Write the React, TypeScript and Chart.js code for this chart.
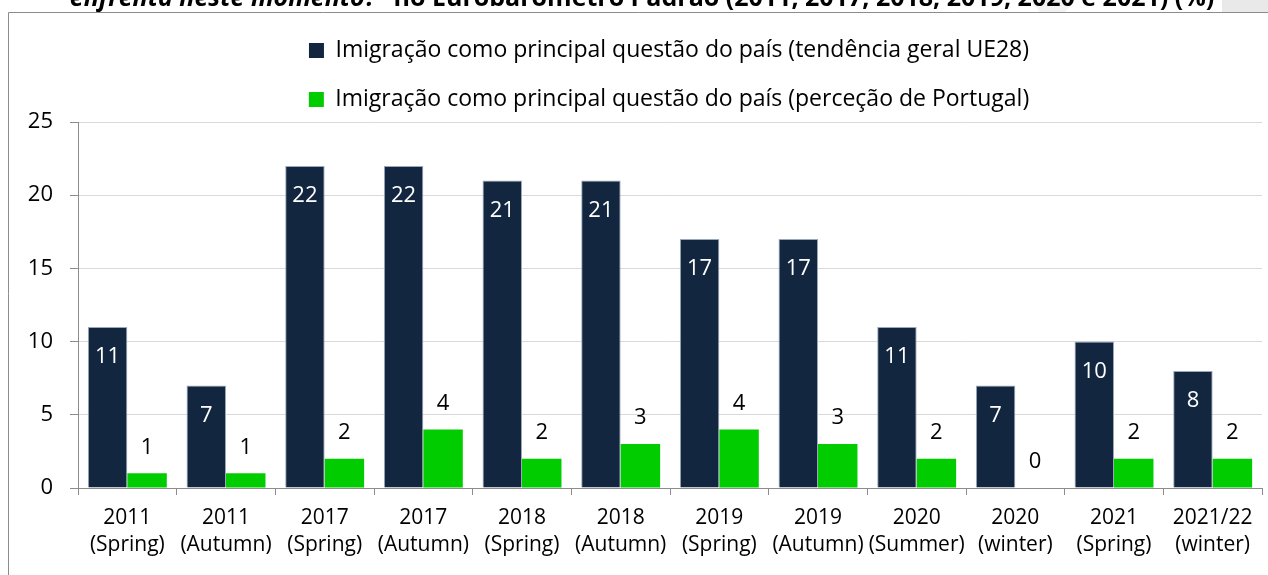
import React, { useEffect, useRef } from "react";
import { Chart, registerables } from "chart.js";

Chart.register(...registerables);

const categories: string[][] = [
  ["2011", "(Spring)"],
  ["2011", "(Autumn)"],
  ["2017", "(Spring)"],
  ["2017", "(Autumn)"],
  ["2018", "(Spring)"],
  ["2018", "(Autumn)"],
  ["2019", "(Spring)"],
  ["2019", "(Autumn)"],
  ["2020", "(Summer)"],
  ["2020", "(winter)"],
  ["2021", "(Spring)"],
  ["2021/22", "(winter)"],
];
const euValues = [11, 7, 22, 22, 21, 21, 17, 17, 11, 7, 10, 8];
const ptValues = [1, 1, 2, 4, 2, 3, 4, 3, 2, 0, 2, 2];
const seriesNames = [
  "Imigração como principal questão do país (tendência geral UE28)",
  "Imigração como principal questão do país (perceção de Portugal)",
];
const seriesColors = ["#13263F", "#00CC00"];
const yMin = 0;
const yMax = 25;
const yStep = 5;
const titleItalic = "enfrenta neste momento?” ";
const titleBold = "no Eurobarómetro Padrão (2011, 2017, 2018, 2019, 2020 e 2021) (%)";

const FONT = '"Open Sans", Lato, "DejaVu Sans", sans-serif';
const AXIS_GRAY = "#8c8c8c";

const framePlugin = {
  id: "framePlugin",
  beforeDraw(chart: any) {
    const ctx = chart.ctx as CanvasRenderingContext2D;
    const w = chart.width;
    const h = chart.height;
    ctx.save();
    ctx.fillStyle = "#ffffff";
    ctx.fillRect(0, 0, w, h);
    // faint grey patches above the frame
    ctx.fillStyle = "#f2f2f2";
    ctx.beginPath();
    ctx.moveTo(1030, 0);
    ctx.lineTo(1075, 0);
    ctx.lineTo(1065, 12);
    ctx.lineTo(1040, 12);
    ctx.closePath();
    ctx.fill();
    ctx.fillStyle = "#e9e9e9";
    ctx.fillRect(1222, 0, w - 1222, 12);
    // clipped title, scaled to span the same width as the original
    ctx.fillStyle = "#000";
    ctx.textBaseline = "alphabetic";
    ctx.textAlign = "left";
    const ref = 25;
    ctx.font = `italic bold ${ref}px ${FONT}`;
    const r1 = ctx.measureText(titleItalic).width;
    ctx.font = `bold ${ref}px ${FONT}`;
    const r2 = ctx.measureText(titleBold).width;
    const size = Math.min(26, (ref * 1145) / (r1 + r2));
    ctx.font = `italic bold ${size}px ${FONT}`;
    const w1 = ctx.measureText(titleItalic).width;
    ctx.font = `bold ${size}px ${FONT}`;
    const w2 = ctx.measureText(titleBold).width;
    const x0 = 642 - (w1 + w2) / 2;
    const baseY = 6;
    ctx.font = `italic bold ${size}px ${FONT}`;
    ctx.fillText(titleItalic, x0, baseY);
    ctx.font = `bold ${size}px ${FONT}`;
    ctx.fillText(titleBold, x0 + w1, baseY);
    // frame
    ctx.strokeStyle = AXIS_GRAY;
    ctx.lineWidth = 1;
    ctx.beginPath();
    ctx.moveTo(8.5, h);
    ctx.lineTo(8.5, 12.5);
    ctx.lineTo(w, 12.5);
    ctx.stroke();
    ctx.restore();
  },
};

// small adjustments to the built-in legend: a little extra space below it,
// and the block nudged right like in the original
const legendTweak = {
  id: "legendTweak",
  beforeLayout(chart: any) {
    const lg: any = chart.legend;
    if (lg && !lg.__patched) {
      const origFit = lg.fit.bind(lg);
      lg.fit = function () {
        origFit();
        this.height += 2;
      };
      const origDraw = lg.draw.bind(lg);
      lg.draw = function () {
        const c = this.ctx as CanvasRenderingContext2D;
        c.save();
        c.translate(38, 1);
        origDraw();
        c.restore();
      };
      lg.__patched = true;
    }
  },
};

const valueLabels = {
  id: "valueLabels",
  afterDatasetsDraw(chart: any) {
    const ctx = chart.ctx as CanvasRenderingContext2D;
    ctx.save();
    ctx.font = `22px ${FONT}`;
    ctx.textAlign = "center";
    ctx.textBaseline = "middle";
    chart.data.datasets.forEach((ds: any, di: number) => {
      const meta = chart.getDatasetMeta(di);
      meta.data.forEach((el: any, i: number) => {
        const v = ds.data[i];
        if (di === 0) {
          ctx.fillStyle = "#ffffff";
          ctx.fillText(String(v), el.x, el.y + 30);
        } else {
          ctx.fillStyle = "#000000";
          ctx.fillText(String(v), el.x, el.y - 26);
        }
      });
    });
    ctx.restore();
  },
};

export default function App() {
  const ref = useRef<HTMLCanvasElement | null>(null);

  useEffect(() => {
    if (!ref.current) return;
    const chart = new Chart(ref.current, {
      type: "bar",
      data: {
        labels: categories,
        datasets: [
          {
            label: seriesNames[0],
            data: euValues,
            backgroundColor: seriesColors[0],
            borderColor: "#9aa8ba",
            borderWidth: 1,
          },
          {
            label: seriesNames[1],
            data: ptValues,
            backgroundColor: seriesColors[1],
            borderWidth: 0,
          },
        ],
      },
      options: {
        responsive: false,
        animation: false,
        devicePixelRatio: 1,
        layout: { padding: { left: 0, right: 6, top: 12, bottom: 0 } },
        datasets: {
          bar: { categoryPercentage: 0.8, barPercentage: 1.0 },
        },
        plugins: {
          title: { display: false },
          tooltip: { enabled: false },
          legend: {
            display: true,
            position: "top",
            align: "center",
            labels: {
              boxWidth: 15,
              boxHeight: 15,
              padding: 26,
              color: "#000",
              font: { family: FONT, size: 23 },
              generateLabels: (c: any) =>
                (Chart.defaults.plugins.legend.labels as any)
                  .generateLabels(c)
                  .map((l: any) => ({ ...l, lineWidth: 0 })),
            },
          },
        },
        scales: {
          x: {
            grid: {
              offset: true,
              drawOnChartArea: false,
              drawTicks: true,
              tickLength: 7,
              color: AXIS_GRAY,
            },
            border: { color: AXIS_GRAY, width: 1 },
            ticks: {
              color: "#000",
              font: { family: FONT, size: 21, lineHeight: 1.3 },
              padding: 9,
              maxRotation: 0,
              minRotation: 0,
              autoSkip: false,
            },
            afterFit: (s: any) => {
              s.height = 87;
            },
          },
          y: {
            min: yMin,
            max: yMax,
            ticks: {
              stepSize: yStep,
              color: "#000",
              font: { family: FONT, size: 22 },
              padding: 17,
            },
            grid: {
              color: (c: any) => (c.tick && c.tick.value === 0 ? AXIS_GRAY : "#D9D9D9"),
              tickColor: AXIS_GRAY,
              tickLength: 8,
            },
            border: { color: AXIS_GRAY, width: 1 },
            afterFit: (s: any) => {
              s.width = 78;
            },
          },
        },
      },
      plugins: [framePlugin, legendTweak, valueLabels],
    } as any);
    return () => chart.destroy();
  }, []);

  return (
    <div style={{ position: "absolute", left: 0, top: 0, width: 1268, height: 575 }}>
      <canvas ref={ref} width={1268} height={575} style={{ display: "block" }} />
    </div>
  );
}
